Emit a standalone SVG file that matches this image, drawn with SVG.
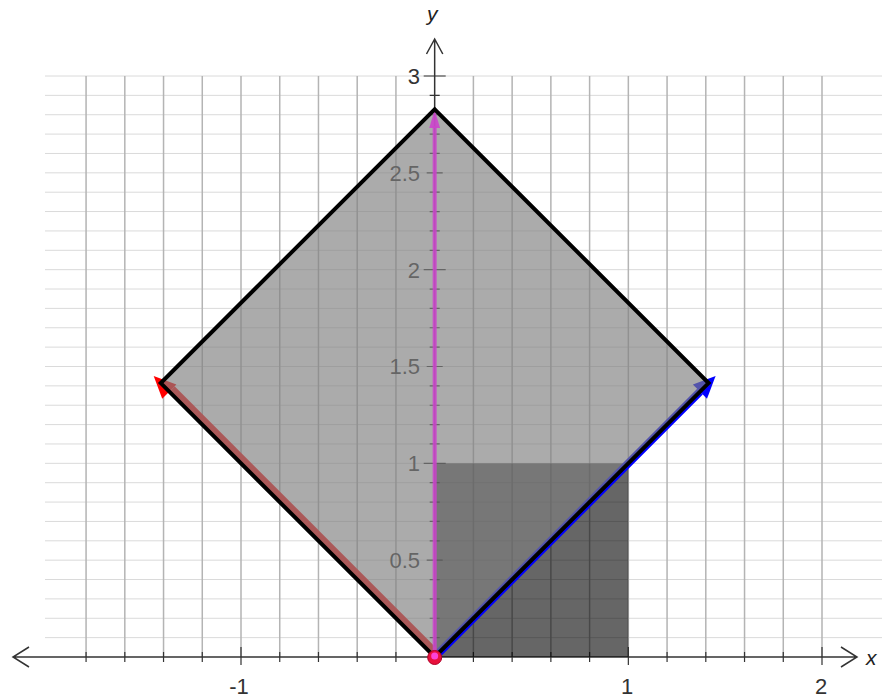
<svg xmlns="http://www.w3.org/2000/svg" width="896" height="698" viewBox="0 0 896 698">
<style>
.hg{stroke:#dadada;stroke-width:1;fill:none}
.vg{stroke:#b4b4b4;stroke-width:1.5;fill:none}
.ax{stroke:#333;stroke-width:1.5;fill:none}
.tk{stroke:#333;stroke-width:1.2;fill:none}
.lbl{font-family:"Liberation Sans",Arial,sans-serif;font-size:22px;fill:#333}
.axl{font-family:"Liberation Sans",Arial,sans-serif;font-size:21px;font-style:italic;fill:#222}
</style>
<rect width="896" height="698" fill="#fff"/>
<g id="grid">
<path class="hg" d="M45,637.63H882M45,618.27H882M45,598.9H882M45,579.53H882M45,560.17H882M45,540.8H882M45,521.43H882M45,502.07H882M45,482.7H882M45,463.33H882M45,443.96H882M45,424.6H882M45,405.23H882M45,385.86H882M45,366.5H882M45,347.13H882M45,327.76H882M45,308.4H882M45,289.03H882M45,269.66H882M45,250.3H882M45,230.93H882M45,211.56H882M45,192.2H882M45,172.83H882M45,153.46H882M45,134.1H882M45,114.73H882M45,95.36H882M45,76H882"/>
<path class="vg" d="M86.07,76V657M124.81,76V657M163.54,76V657M202.27,76V657M241,76V657M279.74,76V657M318.47,76V657M357.2,76V657M395.94,76V657M473.4,76V657M512.13,76V657M550.87,76V657M589.6,76V657M628.34,76V657M667.07,76V657M705.8,76V657M744.54,76V657M783.27,76V657M822,76V657"/>
</g>
<g id="axes">
<path class="ax" d="M13,657H857M29,647L13,657L29,667M841,647L857,657L841,667"/>
<path class="ax" d="M434.67,657V39M426.5,54L434.67,39L442.8,54"/>
<path class="tk" d="M86.07,652V662M124.81,652V662M163.54,652V662M202.27,652V662M241,647V665M279.74,652V662M318.47,652V662M357.2,652V662M395.94,652V662M473.4,652V662M512.13,652V662M550.87,652V662M589.6,652V662M628.34,647V665M667.07,652V662M705.8,652V662M744.54,652V662M783.27,652V662M822,647V665"/>
<path class="tk" d="M429.7,637.63H439.7M429.7,618.27H439.7M429.7,598.9H439.7M429.7,579.53H439.7M426.7,560.17H442.7M429.7,540.8H439.7M429.7,521.43H439.7M429.7,502.07H439.7M429.7,482.7H439.7M423.7,463.33H445.7M429.7,443.96H439.7M429.7,424.6H439.7M429.7,405.23H439.7M429.7,385.86H439.7M426.7,366.5H442.7M429.7,347.13H439.7M429.7,327.76H439.7M429.7,308.4H439.7M429.7,289.03H439.7M423.7,269.66H445.7M429.7,250.3H439.7M429.7,230.93H439.7M429.7,211.56H439.7M429.7,192.2H439.7M426.7,172.83H442.7M429.7,153.46H439.7M429.7,134.1H439.7M429.7,114.73H439.7M429.7,95.36H439.7M423.7,76H445.7"/>
<text class="lbl" x="239" y="694" text-anchor="middle">-1</text>
<text class="lbl" x="627" y="694" text-anchor="middle">1</text>
<text class="lbl" x="821" y="694" text-anchor="middle">2</text>
<text class="lbl" x="420" y="568" text-anchor="end">0.5</text>
<text class="lbl" x="420" y="471.2" text-anchor="end">1</text>
<text class="lbl" x="420" y="374.3" text-anchor="end">1.5</text>
<text class="lbl" x="420" y="277.5" text-anchor="end">2</text>
<text class="lbl" x="420" y="180.7" text-anchor="end">2.5</text>
<text class="lbl" x="420" y="83.9" text-anchor="end">3</text>
<text class="axl" x="866" y="665">x</text>
<text class="axl" x="427" y="21">y</text>
</g>
<g id="unit-square">
<rect x="434.67" y="463.33" width="193.67" height="193.67" fill="#000" fill-opacity="0.6"/>
</g>
<g id="connectors">
<g id="vector-red">
<line x1="437.2" y1="654.5" x2="171.8" y2="389.1" stroke="#ff1010" stroke-width="8"/>
<polygon points="153.7,376 176.4,384.5 162.2,398.7" fill="#ff0000"/>
</g>
<g id="vector-blue">
<line x1="434.67" y1="657" x2="700" y2="391.6" stroke="#0000ff" stroke-width="8"/>
<polygon points="715.6,376 707,398.7 692.9,384.5" fill="#0000ff"/>
</g>
</g>
<g id="rotated-square">
<polygon points="434.67,657 708.56,383.11 434.67,109.22 160.78,383.11" fill="#808080" fill-opacity="0.66"/>
</g>
<g id="vector-magenta">
<line x1="434.67" y1="657" x2="434.67" y2="126" stroke="#cc44cc" stroke-width="4" stroke-opacity="0.85"/>
<polygon points="434.67,110 429.2,128 440.1,128" fill="#cc44cc" fill-opacity="0.9"/>
</g>
<g id="rotated-square-outline">
<polygon points="434.67,657 708.56,383.11 434.67,109.22 160.78,383.11" fill="none" stroke="#000" stroke-width="4" stroke-linejoin="miter"/>
</g>
<g id="origin-point">
<circle cx="434.67" cy="657.5" r="7" fill="#e8103c" stroke="#b00028" stroke-width="1"/>
<circle cx="434.67" cy="656" r="3.5" fill="#ff50ff" fill-opacity="0.8"/>
</g>
</svg>
